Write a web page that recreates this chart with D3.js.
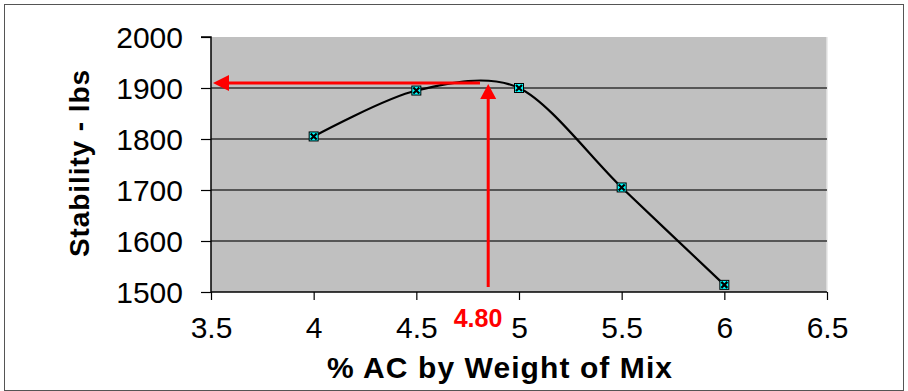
<!DOCTYPE html>
<html>
<head>
<meta charset="utf-8">
<script src="https://cdn.jsdelivr.net/npm/d3@7/dist/d3.min.js"></script>
<style>
  html, body { margin: 0; padding: 0; background: #fff; }
  svg { display: block; }
  text { font-family: "Liberation Sans", Arial, sans-serif; }
</style>
</head>
<body>
<svg id="chart" width="908" height="391"></svg>
<script>
// ---- data ----
const acContent = [4, 4.5, 5, 5.5, 6];
const stability = [1805, 1895, 1900, 1705, 1514];
const xTicks = [3.5, 4, 4.5, 5, 5.5, 6, 6.5];
const yTicks = [1500, 1600, 1700, 1800, 1900, 2000];
const optimumAC = 4.85;        // position of vertical arrow
const optimumLabel = "4.80";
const optimumStability = 1910; // level of horizontal arrow
const xTitle = "% AC by Weight of Mix";
const yTitle = "Stability - lbs";

// ---- layout ----
const svg = d3.select("#chart");
const W = 908, H = 391;
const plot = { left: 211, top: 37, right: 827, bottom: 292 };

const x = d3.scaleLinear().domain([3.5, 6.5]).range([plot.left, plot.right]);
const y = d3.scaleLinear().domain([1500, 2000]).range([plot.bottom, plot.top]);

// outer border
svg.append("rect").attr("x", 4.5).attr("y", 4.5).attr("width", W - 9).attr("height", H - 5)
  .attr("fill", "#fff").attr("stroke", "#555").attr("stroke-width", 1);

// plot background
svg.append("rect").attr("x", plot.left).attr("y", plot.top)
  .attr("width", plot.right - plot.left).attr("height", plot.bottom - plot.top)
  .attr("fill", "#c0c0c0");
// light right edge
svg.append("line").attr("x1", plot.right).attr("x2", plot.right)
  .attr("y1", plot.top).attr("y2", plot.bottom)
  .attr("stroke", "#e6e6e6").attr("stroke-width", 1.5);

// gridlines
svg.append("g").selectAll("line").data(yTicks.filter(d => d > 1500 && d < 2000)).join("line")
  .attr("x1", plot.left).attr("x2", plot.right)
  .attr("y1", d => y(d)).attr("y2", d => y(d))
  .attr("stroke", "#333").attr("stroke-width", 1.5);

// axes
const yAxis = svg.append("g").attr("transform", `translate(${plot.left},0)`)
  .call(d3.axisLeft(y).tickValues(yTicks).tickSize(10).tickPadding(18).tickFormat(d3.format("d")));
const xAxis = svg.append("g").attr("transform", `translate(0,${plot.bottom})`)
  .call(d3.axisBottom(x).tickValues(xTicks).tickSize(8).tickPadding(17).tickFormat(d => String(d)));

[xAxis, yAxis].forEach(g => {
  g.select(".domain").attr("stroke", "#000").attr("stroke-width", 1.5);
  g.selectAll(".tick line").attr("stroke", "#000").attr("stroke-width", 1.2);
  g.selectAll(".tick text").attr("fill", "#000").style("font-size", "30px")
    .style("font-family", '"Liberation Sans", Arial, sans-serif');
});
yAxis.select(".domain").attr("d", `M-10,${plot.top}H0V${plot.bottom}`);
xAxis.select(".domain").attr("d", `M${plot.left},0H${plot.right}`);
yAxis.selectAll(".tick text").attr("dy", "0.36em");

// smooth line (Excel-style smoothing)
const line = d3.line().x(d => x(d[0])).y(d => y(d[1])).curve(d3.curveCardinal.tension(0.1));
const pts = acContent.map((a, i) => [a, stability[i]]);
svg.append("path").datum(pts).attr("d", line)
  .attr("fill", "none").attr("stroke", "#000").attr("stroke-width", 2.2);

// red arrows
const red = "#ff0000";
const hy = y(optimumStability);
const vx = x(optimumAC);
svg.append("line").attr("x1", x(3.5) + 14).attr("x2", x(4.81))
  .attr("y1", hy).attr("y2", hy).attr("stroke", red).attr("stroke-width", 3);
svg.append("path")
  .attr("d", `M${x(3.5) + 2},${hy} L${x(3.5) + 18},${hy - 8} L${x(3.5) + 18},${hy + 8} Z`)
  .attr("fill", red);
svg.append("line").attr("x1", vx).attr("x2", vx)
  .attr("y1", plot.bottom - 5).attr("y2", hy + 14).attr("stroke", red).attr("stroke-width", 3);
svg.append("path")
  .attr("d", `M${vx},${hy + 1} L${vx - 8},${hy + 16} L${vx + 8},${hy + 16} Z`)
  .attr("fill", red);

// markers
const mk = svg.append("g").selectAll("g").data(pts).join("g")
  .attr("transform", d => `translate(${x(d[0])},${y(d[1])})`);
mk.append("rect").attr("x", -4.5).attr("y", -4.5).attr("width", 9).attr("height", 9)
  .attr("fill", "#00ffff").attr("stroke", "#000").attr("stroke-width", 1);
mk.append("path").attr("d", "M-3,-3L3,3M-3,3L3,-3").attr("stroke", "#000").attr("stroke-width", 2.2);

// optimum label
svg.append("text").attr("x", 478).attr("y", 327).attr("text-anchor", "middle")
  .attr("fill", red).style("font-size", "25px").style("font-weight", "bold").text(optimumLabel);

// axis titles
svg.append("text").attr("x", 327).attr("y", 378)
  .attr("textLength", 345)
  .style("font-size", "30px").style("font-weight", "bold").attr("fill", "#000").text(xTitle);
svg.append("text").attr("transform", "translate(89,257) rotate(-90)")
  .attr("textLength", 187)
  .style("font-size", "28px").style("font-weight", "bold").attr("fill", "#000").text(yTitle);
</script>
</body>
</html>
